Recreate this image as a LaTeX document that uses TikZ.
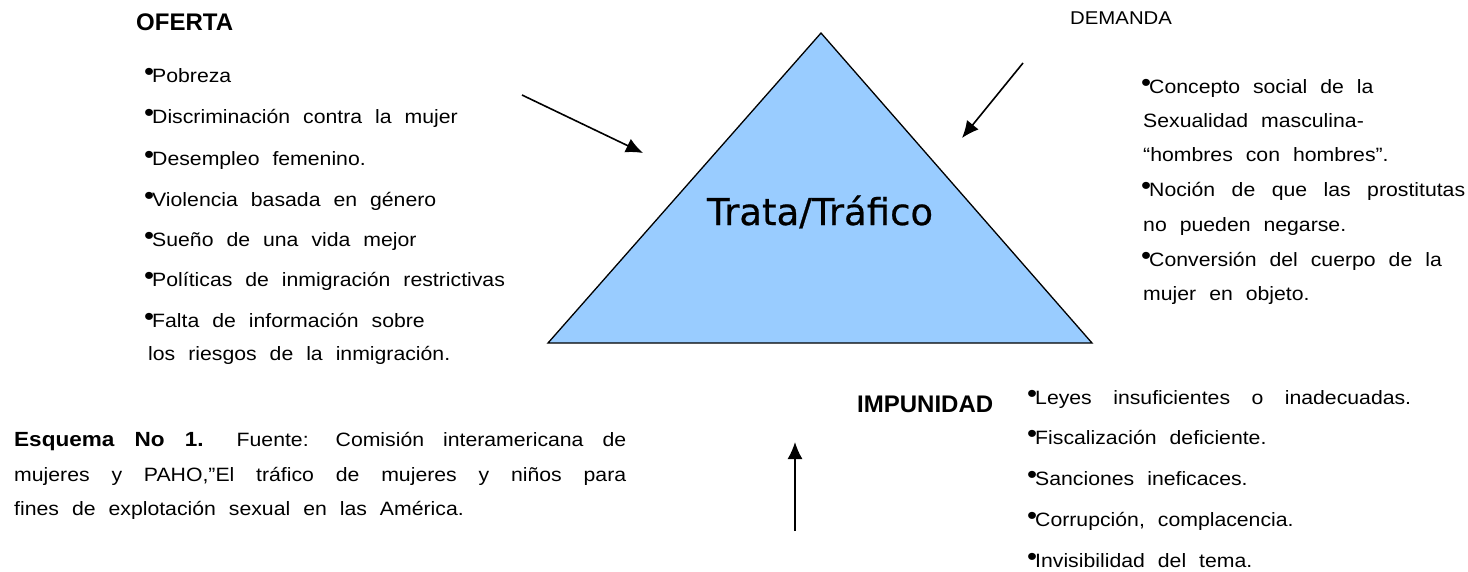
\documentclass[tikz,border=0pt]{standalone}
\usepackage{fontspec}
\setmainfont{Liberation Sans}[FakeStretch=1.1,WordSpace=2.2]
\newfontfamily\headfont{Liberation Sans}[WordSpace=2.2]
\newfontfamily\titlefont{DejaVu Sans}[FakeBold=0.6]
\usepackage{tikz}
\usetikzlibrary{arrows.meta}
\definecolor{triblue}{RGB}{153,204,255}
\newcommand{\bul}{\makebox[6pt][c]{\raisebox{2pt}{\fontsize{26}{26}\selectfont\textbullet}}}

\begin{document}
\begin{tikzpicture}[x=1pt, y=-1pt,
  txt/.style={anchor=base west, inner sep=0pt, font=\fontsize{19.3}{19}\selectfont},
  head/.style={anchor=base west, inner sep=0pt, font=\headfont\bfseries\fontsize{24}{24}\selectfont},
  arr/.style={line width=1.6pt, -{Latex[length=17pt,width=15pt]}}]
\useasboundingbox (0,0) rectangle (1468,571);
% triangle corners
\coordinate (T) at (821,33);
\coordinate (L) at (548,343);
\coordinate (R) at (1092,343);
\draw[fill=triblue, line width=1.3pt] (T) -- (L) -- (R) -- cycle;
\node[anchor=base, inner sep=0pt, font=\titlefont\fontsize{37}{37}\selectfont] (trata) at (820,225) {Trata/Tráfico};
% oferta
\node[head] (oferta) at (136,30) {OFERTA};
\node[txt] (of1) at (146,82) {\bul Pobreza};
\node[txt] (of2) at (146,123) {\bul Discriminación contra la mujer};
\node[txt] (of3) at (146,165) {\bul Desempleo femenino.};
\node[txt] (of4) at (146,206) {\bul Violencia basada en género};
\node[txt] (of5) at (146,246) {\bul Sueño de una vida mejor};
\node[txt] (of6) at (146,286) {\bul Políticas de inmigración restrictivas};
\node[txt] (of7) at (146,327) {\bul Falta de información sobre};
\node[txt] (of8) at (148,360) {los riesgos de la inmigración.};
% demanda
\node[txt, font=\fontsize{18.5}{18}\selectfont] (demanda) at (1070,24) {DEMANDA};
\node[txt] (de1) at (1143,93) {\bul Concepto social de la};
\node[txt] (de2) at (1143,127) {Sexualidad masculina-};
\node[txt] (de3) at (1143,161) {“hombres con hombres”.};
\node[txt] (de4) at (1143,196) {\makebox[322pt][s]{\bul Noción de que las prostitutas}};
\node[txt] (de5) at (1143,231) {no pueden negarse.};
\node[txt] (de6) at (1143,266) {\bul Conversión del cuerpo de la};
\node[txt] (de7) at (1143,300) {mujer en objeto.};
% impunidad
\node[head] (impunidad) at (857,412) {IMPUNIDAD};
\node[txt] (im1) at (1029,404) {\makebox[382pt][s]{\bul Leyes insuficientes o inadecuadas.}};
\node[txt] (im2) at (1029,444) {\bul Fiscalización deficiente.};
\node[txt] (im3) at (1029,485) {\bul Sanciones ineficaces.};
\node[txt] (im4) at (1029,526) {\bul Corrupción, complacencia.};
\node[txt] (im5) at (1029,567) {\bul Invisibilidad del tema.};
% caption
\node[txt] (cap1) at (14,446) {\makebox[612pt][s]{{\bfseries\fontsize{20.5}{20}\selectfont Esquema No 1.} Fuente: Comisión interamericana de}};
\node[txt] (cap2) at (14,481) {\makebox[612pt][s]{mujeres y PAHO,”El tráfico de mujeres y niños para}};
\node[txt] (cap3) at (14,515) {fines de explotación sexual en las América.};
% arrows
\coordinate (ofs) at (522,95);
\coordinate (ofe) at (643,153);
\coordinate (des) at (1023,63);
\coordinate (dee) at (962,138);
\coordinate (ims) at (795,531);
\coordinate (ime) at (795,442);
\draw[arr] (ofs) -- (ofe);
\draw[arr] (des) -- (dee);
\draw[arr] (ims) -- (ime);
\end{tikzpicture}
\end{document}
